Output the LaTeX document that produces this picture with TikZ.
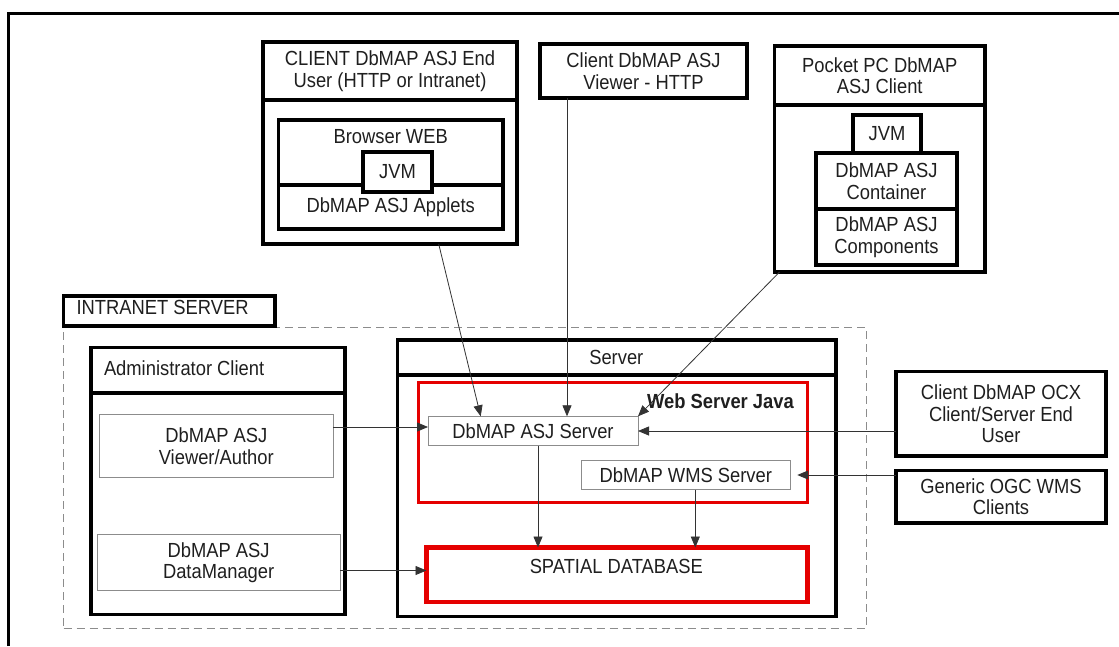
\documentclass[tikz,border=0pt]{standalone}
\usepackage{fontspec}
\setmainfont{Liberation Sans}[FakeStretch=0.9]
\usetikzlibrary{arrows.meta,calc}
\begin{document}
\begin{tikzpicture}[x=1pt,y=-1pt,
  every node/.style={inner sep=0pt,outer sep=0pt,font=\fontsize{20.4}{21.5}\selectfont,text=black!88},
  box/.style={rectangle,anchor=north west},
  thickbox/.style={box,draw=black,line width=3.8pt},
  thinbox/.style={box,draw=black!45,line width=1pt,align=center},
  redbox/.style={box,draw=red!90!black,line width=#1},
  dashbox/.style={box,draw=black!45,line width=1pt,dash pattern=on 8pt off 5pt},
  divider/.style={draw=black,line width=3.8pt},
  frameline/.style={draw=black,line width=2.7pt},
  lbl/.style={align=center},
  conn/.style={draw=black!80,line width=0.8pt,-{Triangle[length=11pt,width=9pt]}},
]
\useasboundingbox (0,0) rectangle (1119,646);
\fill[white] (0,0) rectangle (1119,646);
\draw[frameline] (8.3,646) -- (8.3,13.3) -- (1119,13.3);

% CLIENT End User
\node[thickbox,minimum width=254pt,minimum height=202pt] (client) at (263,42) {};
\draw[divider] (client.west |- 0,100) -- (client.east |- 0,100);
\node[lbl] (clientt) at (390,71) {CLIENT DbMAP ASJ End\\User (HTTP or Intranet)};
\node[thickbox,minimum width=224.5pt,minimum height=109pt] (browser) at (278.5,120) {};
\draw[divider] (browser.west |- 0,185) -- (browser.east |- 0,185);
\node[thickbox,fill=white,minimum width=69pt,minimum height=40pt] (bjvm) at (363,152) {};
\node[lbl] (bjvmt) at (bjvm.center) {JVM};
\node[lbl] (browsert) at (390.7,136.5) {Browser WEB};
\node[lbl] (appletst) at (390.7,207) {DbMAP ASJ Applets};

% Viewer HTTP
\node[thickbox,lbl,minimum width=207pt,minimum height=54pt] (viewer) at (540,44) {Client DbMAP ASJ\\Viewer - HTTP};

% Pocket PC
\node[thickbox,minimum width=210.5pt,minimum height=226pt] (pocket) at (774.5,46) {};
\draw[divider] (pocket.west |- 0,105) -- (pocket.east |- 0,105);
\node[lbl] (pockett) at (879.75,75.5) {Pocket PC DbMAP\\ASJ Client};
\node[thickbox,lbl,minimum width=68pt,minimum height=38pt] (pjvm) at (853,115) {JVM};
\node[thickbox,lbl,minimum width=141pt,minimum height=56pt] (container) at (816,153) {DbMAP ASJ\\Container};
\node[thickbox,lbl,minimum width=141pt,minimum height=56pt] (components) at (816,209) {DbMAP ASJ\\Components};

% Intranet server
\node[dashbox,minimum width=802.5pt,minimum height=301pt] (intra) at (63.5,327) {};
\node[thickbox,fill=white,minimum width=211.5pt,minimum height=30pt] (intranet) at (63.5,296) {};
\node[anchor=west] (intranett) at (76.5,307) {INTRANET SERVER};

% Administrator client
\node[thickbox,minimum width=254pt,minimum height=267pt] (admin) at (91,347.5) {};
\draw[divider] (admin.west |- 0,393) -- (admin.east |- 0,393);
\node[anchor=west] (admint) at (104,368.5) {Administrator Client};
\node[thinbox,minimum width=234pt,minimum height=62.6pt] (va) at (99.3,414.7) {DbMAP ASJ\\Viewer/Author};
\node[thinbox,minimum width=242.7pt,minimum height=55.6pt] (dm) at (97.3,534.7) {DbMAP ASJ\\DataManager};

% Server
\node[thickbox,minimum width=438.5pt,minimum height=276.5pt] (server) at (397.5,340) {};
\draw[divider] (server.west |- 0,374.7) -- (server.east |- 0,374.7);
\node[lbl] (servert) at (616.3,357.5) {Server};
\node[redbox=3pt,minimum width=389pt,minimum height=119.5pt] (web) at (418.5,382.5) {};
\node[lbl,font=\fontsize{20.4}{21.5}\selectfont\bfseries] (webt) at (720.5,401) {Web Server Java};
\node[thinbox,minimum width=210pt,minimum height=29.4pt] (asj) at (428,416.3) {DbMAP ASJ Server};
\node[thinbox,minimum width=209pt,minimum height=29.4pt] (wms) at (581.3,460.3) {DbMAP WMS Server};
\node[redbox=4.3pt,minimum width=381pt,minimum height=54.5pt] (spatial) at (426.5,547.5) {};
\node[lbl] (spatialt) at (616.3,566) {SPATIAL DATABASE};

% External clients
\node[thickbox,lbl,minimum width=210pt,minimum height=84.5pt] (ocx) at (896,371.5) {Client DbMAP OCX\\Client/Server End\\User};
\node[thickbox,lbl,minimum width=210pt,minimum height=52.5pt] (gen) at (896,470.5) {Generic OGC WMS\\Clients};

% Connectors
\draw[conn] ([xshift=48.7pt]client.south) -- ([xshift=-52.3pt]asj.north);
\draw[conn] ([xshift=-76.5pt]viewer.south) -- ([xshift=-76.5pt]viewer.south |- asj.north);
\draw[conn] ([xshift=5pt]pocket.south west) -- (asj.north east);
\draw[conn] ([yshift=19pt]va.east) -- ([yshift=19pt]va.east -| asj.west);
\draw[conn] ([yshift=-8pt]dm.east) -- ([yshift=-8pt]dm.east -| spatial.west);
\draw[conn] ([xshift=5pt]asj.south) -- ([xshift=5pt]asj.south |- spatial.north);
\draw[conn] ([xshift=9.5pt]wms.south) -- ([xshift=9.5pt]wms.south |- spatial.north);
\draw[conn] (ocx.west |- asj.east) -- (asj.east);
\draw[conn] (gen.west |- wms.east) -- ([xshift=7pt]wms.east);
\end{tikzpicture}
\end{document}
